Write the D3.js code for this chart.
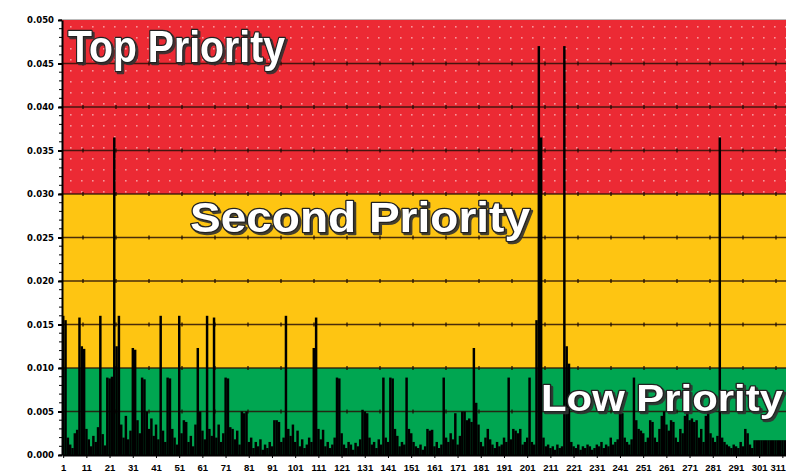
<!DOCTYPE html>
<html><head><meta charset="utf-8">
<script src="https://cdn.jsdelivr.net/npm/d3@7"></script>
<style>body{margin:0;background:#fff}svg{display:block}</style>
</head><body><svg id="c" width="786" height="476"></svg>
<script>
// ---- data ----
const values = [
0.0160,0.0155,0.0020,0.0012,0.0008,0.0025,0.0029,0.0158,0.0125,0.0122,
0.0030,0.0018,0.0010,0.0022,0.0015,0.0032,0.0160,0.0024,0.0011,0.0089,
0.0088,0.0090,0.0365,0.0125,0.0160,0.0035,0.0020,0.0045,0.0018,0.0028,
0.0123,0.0121,0.0040,0.0025,0.0089,0.0087,0.0050,0.0030,0.0042,0.0022,
0.0035,0.0018,0.0160,0.0028,0.0015,0.0089,0.0088,0.0030,0.0020,0.0012,
0.0160,0.0025,0.0040,0.0038,0.0015,0.0022,0.0010,0.0035,0.0123,0.0050,
0.0028,0.0018,0.0160,0.0030,0.0022,0.0158,0.0020,0.0035,0.0015,0.0025,
0.0089,0.0088,0.0032,0.0030,0.0018,0.0028,0.0012,0.0050,0.0048,0.0050,
0.0015,0.0020,0.0008,0.0015,0.0010,0.0018,0.0006,0.0012,0.0008,0.0015,
0.0010,0.0040,0.0040,0.0038,0.0015,0.0020,0.0160,0.0030,0.0022,0.0035,
0.0015,0.0028,0.0010,0.0018,0.0008,0.0012,0.0020,0.0015,0.0123,0.0158,
0.0030,0.0018,0.0029,0.0010,0.0015,0.0008,0.0012,0.0020,0.0089,0.0088,
0.0025,0.0012,0.0008,0.0015,0.0012,0.0006,0.0014,0.0010,0.0018,0.0052,
0.0050,0.0048,0.0020,0.0012,0.0015,0.0008,0.0018,0.0012,0.0089,0.0020,
0.0015,0.0089,0.0088,0.0030,0.0022,0.0010,0.0015,0.0012,0.0089,0.0030,
0.0025,0.0015,0.0010,0.0008,0.0012,0.0006,0.0010,0.0030,0.0028,0.0029,
0.0010,0.0015,0.0008,0.0012,0.0089,0.0020,0.0015,0.0025,0.0018,0.0048,
0.0012,0.0022,0.0050,0.0050,0.0040,0.0042,0.0038,0.0123,0.0060,0.0035,
0.0015,0.0010,0.0020,0.0030,0.0018,0.0012,0.0008,0.0015,0.0010,0.0012,
0.0020,0.0015,0.0089,0.0018,0.0030,0.0028,0.0025,0.0030,0.0012,0.0015,
0.0020,0.0089,0.0015,0.0012,0.0155,0.0470,0.0365,0.0020,0.0010,0.0012,
0.0008,0.0010,0.0006,0.0012,0.0008,0.0010,0.0470,0.0125,0.0105,0.0015,
0.0010,0.0008,0.0012,0.0006,0.0010,0.0008,0.0012,0.0010,0.0006,0.0008,
0.0012,0.0010,0.0015,0.0008,0.0012,0.0010,0.0020,0.0012,0.0015,0.0018,
0.0050,0.0048,0.0020,0.0015,0.0012,0.0018,0.0089,0.0040,0.0030,0.0028,
0.0025,0.0015,0.0020,0.0040,0.0038,0.0020,0.0015,0.0030,0.0045,0.0050,
0.0035,0.0028,0.0040,0.0038,0.0020,0.0015,0.0030,0.0025,0.0045,0.0050,
0.0040,0.0042,0.0038,0.0040,0.0020,0.0030,0.0015,0.0045,0.0050,0.0025,
0.0020,0.0015,0.0022,0.0365,0.0020,0.0015,0.0012,0.0010,0.0008,0.0012,
0.0010,0.0008,0.0015,0.0010,0.0030,0.0025,0.0012,0.0008,0.0017,0.0017,
0.0017,0.0017,0.0017,0.0017,0.0017,0.0017,0.0017,0.0017,0.0017,0.0017,
0.0017,0.0017,0.0017
];
const xTickLabels = [1,11,21,31,41,51,61,71,81,91,101,111,121,131,141,151,161,171,181,191,201,211,221,231,241,251,261,271,281,291,301,311];
const yTicks = [0,0.005,0.010,0.015,0.020,0.025,0.030,0.035,0.040,0.045,0.050];
const bands = [
  {name:"Low Priority", from:0, to:0.010, color:"#00a651"},
  {name:"Second Priority", from:0.010, to:0.030, color:"#fec512"},
  {name:"Top Priority", from:0.030, to:0.050, color:"#ec2a34"}
];

// ---- layout ----
const svg = d3.select("#c");
const defs = svg.append("defs");
const f = defs.append("filter").attr("id", "sh").attr("x", "-5%").attr("y", "-20%").attr("width", "115%").attr("height", "150%");
f.append("feDropShadow").attr("dx", 2).attr("dy", 2).attr("stdDeviation", 0.6).attr("flood-color", "#333").attr("flood-opacity", 0.9);

const x = d3.scaleLinear().domain([0.5, 314.5]).range([62, 62 + 314*2.32]);
const y = d3.scaleLinear().domain([0, 0.05]).range([455, 20]);
const L = 62, R = 790;

svg.append("g").selectAll("rect").data(bands).join("rect")
  .attr("x", L).attr("width", R - L)
  .attr("y", d => y(d.to)).attr("height", d => y(d.from) - y(d.to))
  .attr("fill", d => d.color);

const dots = svg.append("g");
for (let yy = y(0.05) + 6; yy < y(0.030) - 2; yy += 11) {
  for (let xx = L + 8; xx < R; xx += 11) {
    dots.append("rect").attr("x", xx).attr("y", yy).attr("width", 1.6).attr("height", 1.6)
      .attr("fill", "#fff").attr("opacity", 0.5);
  }
}

svg.append("g").selectAll("line").data(yTicks.filter(v => v > 0 && v < 0.05)).join("line")
  .attr("x1", L).attr("x2", R).attr("y1", d => y(d)).attr("y2", d => y(d))
  .attr("stroke", "#2a1208").attr("stroke-width", 1.6).attr("opacity", 0.85);
const gdots = svg.append("g");
yTicks.filter(v => v > 0 && v < 0.05).forEach(v => {
  for (let xx = L + 20; xx < R; xx += 33) {
    gdots.append("rect").attr("x", xx).attr("y", y(v) - 2).attr("width", 2).attr("height", 4)
      .attr("fill", "#1a0a04").attr("opacity", 0.6);
  }
});
svg.append("line").attr("x1", L).attr("x2", R).attr("y1", 19.5).attr("y2", 19.5)
  .attr("stroke", "#bbb").attr("stroke-width", 1);

const bw = x(1.5) - x(0.5);
svg.append("g").selectAll("rect").data(values).join("rect")
  .attr("x", (d, i) => x(i + 1) - bw/2)
  .attr("width", bw + 0.15)
  .attr("y", d => y(d))
  .attr("height", d => y(0) - y(d))
  .attr("fill", "#000");

const xa = svg.append("g").attr("transform", `translate(0,${y(0)})`)
  .call(d3.axisBottom(x).tickValues(xTickLabels).tickSize(3).tickSizeOuter(0).tickPadding(6));
xa.select(".domain").attr("stroke", "#000").attr("stroke-width", 2);
xa.selectAll("text").attr("font-family", "Liberation Sans, Arial, sans-serif")
  .attr("font-weight", "bold").attr("font-size", 9.5).attr("fill", "#000");
xa.selectAll(".tick").filter(d => d === 311).select("text").attr("text-anchor", "end").attr("dx", 3);

const ya = svg.append("g").attr("transform", `translate(${L},0)`)
  .call(d3.axisLeft(y).tickValues(yTicks).tickFormat(d3.format(".3f")).tickSize(4).tickPadding(4).tickSizeOuter(0));
ya.select(".domain").attr("stroke", "#000").attr("stroke-width", 2);
ya.selectAll("text").attr("font-family", "DejaVu Sans, sans-serif")
  .attr("font-weight", "bold").attr("font-size", 8.5).attr("fill", "#000");
ya.selectAll(".tick line").attr("stroke-width", 2);
svg.append("g").selectAll("line").data(d3.range(0, 0.0501, 0.001)).join("line")
  .attr("x1", L - 3).attr("x2", L).attr("y1", d => y(d)).attr("y2", d => y(d))
  .attr("stroke", "#000").attr("stroke-width", 1);

const titles = [
  {text:"Top Priority", x:68, y:62, size:44, len:217},
  {text:"Second Priority", x:190, y:232, size:42, len:340},
  {text:"Low Priority", x:541, y:411, size:36, len:242}
];
svg.append("g").attr("font-family", "Liberation Sans, Arial, sans-serif").attr("font-weight", "bold")
  .selectAll("text").data(titles).join("text")
  .attr("x", d => d.x).attr("y", d => d.y).attr("font-size", d => d.size)
  .attr("textLength", d => d.len).attr("lengthAdjust", "spacingAndGlyphs")
  .attr("fill", "#fff").attr("stroke", "#222").attr("stroke-width", 2.5).attr("paint-order", "stroke")
  .attr("stroke-linejoin", "round").attr("filter", "url(#sh)")
  .text(d => d.text);
</script></body></html>
